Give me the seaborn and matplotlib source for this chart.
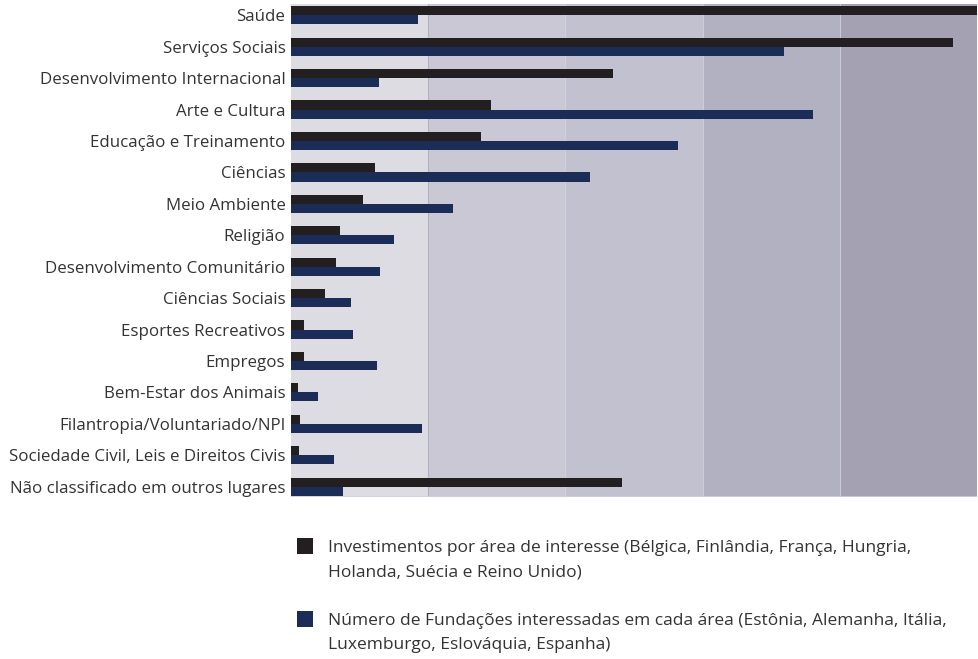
import pandas as pd
import matplotlib
matplotlib.use("Agg")
import matplotlib.pyplot as plt
import matplotlib.patches as mpatches
from matplotlib.legend_handler import HandlerPatch
import seaborn as sns

# areas of interest, top to bottom
areas = ["Saúde", "Serviços Sociais", "Desenvolvimento Internacional",
         "Arte e Cultura", "Educação e Treinamento", "Ciências",
         "Meio Ambiente", "Religião", "Desenvolvimento Comunitário",
         "Ciências Sociais", "Esportes Recreativos", "Empregos",
         "Bem-Estar dos Animais", "Filantropia/Voluntariado/NPI",
         "Sociedade Civil, Leis e Direitos Civis",
         "Não classificado em outros lugares"]

# values (relative scale, full width = 100)
investimentos = [100, 96.5, 47.0, 29.2, 27.7, 12.2, 10.5, 7.2,
                 6.6, 5.0, 1.9, 1.9, 1.0, 1.3, 1.2, 48.2]
fundacoes = [18.5, 71.9, 12.9, 76.1, 56.4, 43.6, 23.6, 15.0,
             13.0, 8.8, 9.1, 12.6, 3.9, 19.1, 6.2, 7.6]

serie_inv = ("Investimentos por área de interesse (Bélgica, Finlândia, França, Hungria,\n"
             "Holanda, Suécia e Reino Unido)")
serie_fund = ("Número de Fundações interessadas em cada área (Estônia, Alemanha, Itália,\n"
              "Luxemburgo, Eslováquia, Espanha)")

bands = ["#dcdce2", "#cac8d4", "#c2c1d0", "#b2b1c1", "#a3a1b2"]

df = pd.DataFrame({
    "area": areas * 2,
    "valor": investimentos + fundacoes,
    "serie": [serie_inv] * len(areas) + [serie_fund] * len(areas),
})

sns.set_style("white")
plt.rcParams["font.family"] = ["Open Sans", "DejaVu Sans"]

fig = plt.figure(figsize=(9.79, 6.59), dpi=100)
ax = fig.add_axes([291 / 979, 1 - 497 / 659, 686 / 979, 493 / 659])

# shaded background bands
for i, c in enumerate(bands):
    ax.axvspan(i * 20, (i + 1) * 20, color=c, lw=0, zorder=0)
ax.axvline(20, color="#b3b2c0", lw=0.8, zorder=0.5)
for x in [40, 60, 80]:
    ax.axvline(x, color="#d4d3dd", lw=0.6, zorder=0.5)

sns.barplot(data=df, y="area", x="valor", hue="serie", orient="h",
            palette=["#231f20", "#1b2d56"], width=0.58, saturation=1,
            dodge=True, ax=ax, zorder=2, legend=True, linewidth=0)

ax.set_xlim(0, 100)
ax.set_ylim(15.33, -0.36)
ax.set_xlabel("")
ax.set_ylabel("")
ax.set_xticks([])
for s in ax.spines.values():
    s.set_visible(False)
ax.axhline(15.33, color="#d0cfdb", lw=1.2, zorder=3)
ax.tick_params(axis="y", length=0, pad=4, labelsize=12.2, labelcolor="#333333")


# square lined up with the first text line
def top_square(legend, orig_handle, xdescent, ydescent, width, height, fontsize):
    return mpatches.Rectangle((-xdescent, -ydescent + 0.82 * fontsize), width, height)


handles, labels = ax.get_legend_handles_labels()
ax.get_legend().remove()
leg = fig.legend(handles, labels, loc="upper left",
                 bbox_to_anchor=(297 / 979, 1 - 540 / 659),
                 frameon=False, fontsize=12.5, handlelength=0.92,
                 handleheight=1.0, handletextpad=0.86, labelspacing=1.9,
                 borderpad=0, borderaxespad=0,
                 handler_map={mpatches.Rectangle: HandlerPatch(patch_func=top_square)})
for t in leg.get_texts():
    t.set_color("#333333")
    t.set_linespacing(1.68)

fig.savefig("out.png", dpi=100)
